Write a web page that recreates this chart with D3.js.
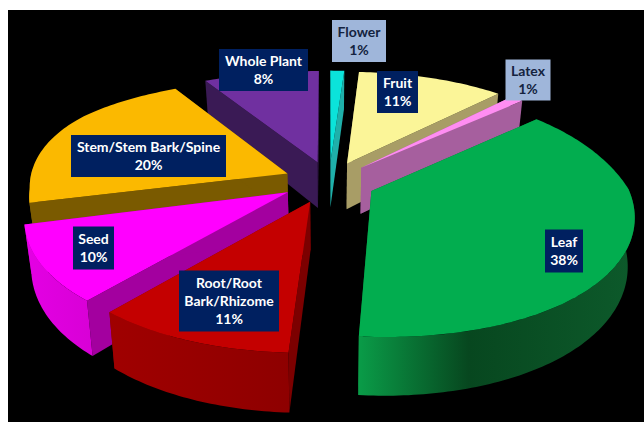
<!DOCTYPE html>
<html>
<head>
<meta charset="utf-8">
<script src="https://cdn.jsdelivr.net/npm/d3@7/dist/d3.min.js"></script>
<style>
  html, body { margin: 0; padding: 0; background: #fff; }
  svg { display: block; }
  text { font-family: Lato, "Noto Sans", sans-serif; font-weight: 700; font-size: 14px; }
</style>
</head>
<body>
<script>
// Plant parts used, clockwise from twelve o'clock
const categories = ["Flower", "Fruit", "Latex", "Leaf", "Root/Root Bark/Rhizome", "Seed", "Stem/Stem Bark/Spine", "Whole Plant"];
const shares = [1, 11, 1, 38, 11, 10, 20, 8];

// Face colours per slice
const topColors = ["#0be3da", "#fbf598", "#ff8df2", "#02ad4f", "#c40000", "#ff00ff", "#fbb900", "#7030a0"];
const cutColors = ["#1fb0aa", "#a89d66", "#a65f9e", "#06702f", "#7c0000", "#a3009f", "#7a5a00", "#3a1a55"];
const rimColorsA = ["#1fb0aa", "#a89d66", "#a65f9e", "#0a9c48", "#8e0000", "#d800d6", "#7a5a00", "#3a1a55"];
const rimColorsB = ["#1fb0aa", "#a89d66", "#a65f9e", "#07471f", "#a00000", "#e400e4", "#7a5a00", "#3a1a55"];

// Wrapped label lines and the boxes' centres on the page
const labelLines = [["Flower"], ["Fruit"], ["Latex"], ["Leaf"], ["Root/Root", "Bark/Rhizome"], ["Seed"], ["Stem/Stem Bark/Spine"], ["Whole Plant"]];
const labelCentres = [[359, 41], [397.5, 92], [528, 80], [564, 251], [229, 301], [93.5, 248], [148.5, 156], [263.5, 70]];
const labelSizes = [[54, 42], [41, 42], [45, 41], [38, 43], [100, 61], [41, 43], [155, 42], [89, 42]];
const lightLabels = new Set(["Flower", "Latex"]);

// Back-to-front painting order, by slice index
const paintOrder = [7, 0, 1, 2, 6, 5, 3, 4];

const W = 644, H = 422;
const svg = d3.select("body").append("svg").attr("width", W).attr("height", H);
svg.append("rect").attr("x", 8).attr("y", 10).attr("width", W - 8).attr("height", H - 10).attr("fill", "#000");

// Perspective of the tilted disc: u points right, v points away from the viewer
const view = { cx: 329, cy: 182, rx: 258, ry: 115, kx: 0.125, ku: 0.06, ky: 0.185, sag: 5, depth: 47, shrink: 0.977, explode: 0.18 };
function project(u, v, lower) {
  const sx = 1 / (1 + view.kx * v + view.ku * u * Math.max(v, 0)), sy = 1 / (1 + view.ky * v);
  let X = view.cx + view.rx * u * sx;
  let Y = view.cy - view.ry * v * sy + view.sag * u * u * Math.max(0, 1 - 1.6 * v);
  if (lower) {
    X = view.cx + (X - view.cx) * view.shrink;
    Y += view.depth * sy;
  }
  return [X, Y];
}

const slices = d3.pie().sort(null).value(d => d)(shares);
const svgLine = d3.line();
const defs = svg.append("defs");
const deg = Math.PI / 180;

function arcPoints(a0, a1, ox, oy, lower) {
  const n = Math.max(2, Math.ceil((a1 - a0) / deg));
  return d3.range(n + 1).map(i => {
    const a = a0 + (a1 - a0) * i / n;
    return project(ox + Math.sin(a), oy + Math.cos(a), lower);
  });
}

paintOrder.forEach(i => {
  const s = slices[i];
  const mid = (s.startAngle + s.endAngle) / 2;
  const ox = view.explode * Math.sin(mid), oy = view.explode * Math.cos(mid);
  const g = svg.append("g").attr("class", "slice");

  // Radial cut faces
  [s.startAngle, s.endAngle].forEach(a => {
    const rim = [ox + Math.sin(a), oy + Math.cos(a)];
    const face = [project(ox, oy), project(rim[0], rim[1]), project(rim[0], rim[1], true), project(ox, oy, true)];
    g.append("path").attr("d", svgLine(face) + "Z").attr("fill", cutColors[i]);
  });

  // Curved outer face, only where it turns towards the viewer
  const f0 = Math.max(s.startAngle, 85 * deg), f1 = Math.min(s.endAngle, 275 * deg);
  if (f1 > f0) {
    const upper = arcPoints(f0, f1, ox, oy, false);
    const lower = arcPoints(f0, f1, ox, oy, true);
    const xs = upper.concat(lower).map(p => p[0]);
    const gradId = "rim" + i;
    const grad = defs.append("linearGradient").attr("id", gradId).attr("gradientUnits", "userSpaceOnUse")
      .attr("x1", d3.max(xs)).attr("x2", d3.min(xs)).attr("y1", 0).attr("y2", 0);
    if (categories[i] === "Leaf") {
      grad.append("stop").attr("offset", 0).attr("stop-color", "#0d5a2b");
      grad.append("stop").attr("offset", 0.6).attr("stop-color", rimColorsB[i]);
      grad.append("stop").attr("offset", 1).attr("stop-color", rimColorsA[i]);
    } else {
      grad.append("stop").attr("offset", 0).attr("stop-color", rimColorsA[i]);
      grad.append("stop").attr("offset", 1).attr("stop-color", rimColorsB[i]);
    }
    g.append("path").attr("d", svgLine(upper.concat(lower.reverse())) + "Z").attr("fill", `url(#${gradId})`);
  }

  // Top face
  const top = [project(ox, oy)].concat(arcPoints(s.startAngle, s.endAngle, ox, oy, false));
  g.append("path").attr("d", svgLine(top) + "Z").attr("fill", topColors[i]);
});

// Data labels
categories.forEach((name, i) => {
  const [x, y] = labelCentres[i], [w, h] = labelSizes[i];
  const light = lightLabels.has(name);
  const lines = labelLines[i].concat(shares[i] + "%");
  const g = svg.append("g").attr("class", "label");
  g.append("rect").attr("x", x - w / 2).attr("y", y - h / 2).attr("width", w).attr("height", h)
    .attr("fill", light ? "#9fb6da" : "#002060");
  g.selectAll("text").data(lines).join("text")
    .attr("x", x)
    .attr("y", (d, k) => y + (k - (lines.length - 1) / 2) * 18 + 4.5)
    .attr("text-anchor", "middle")
    .attr("fill", light ? "#14233f" : "#fff")
    .text(d => d);
});
</script>
</body>
</html>
